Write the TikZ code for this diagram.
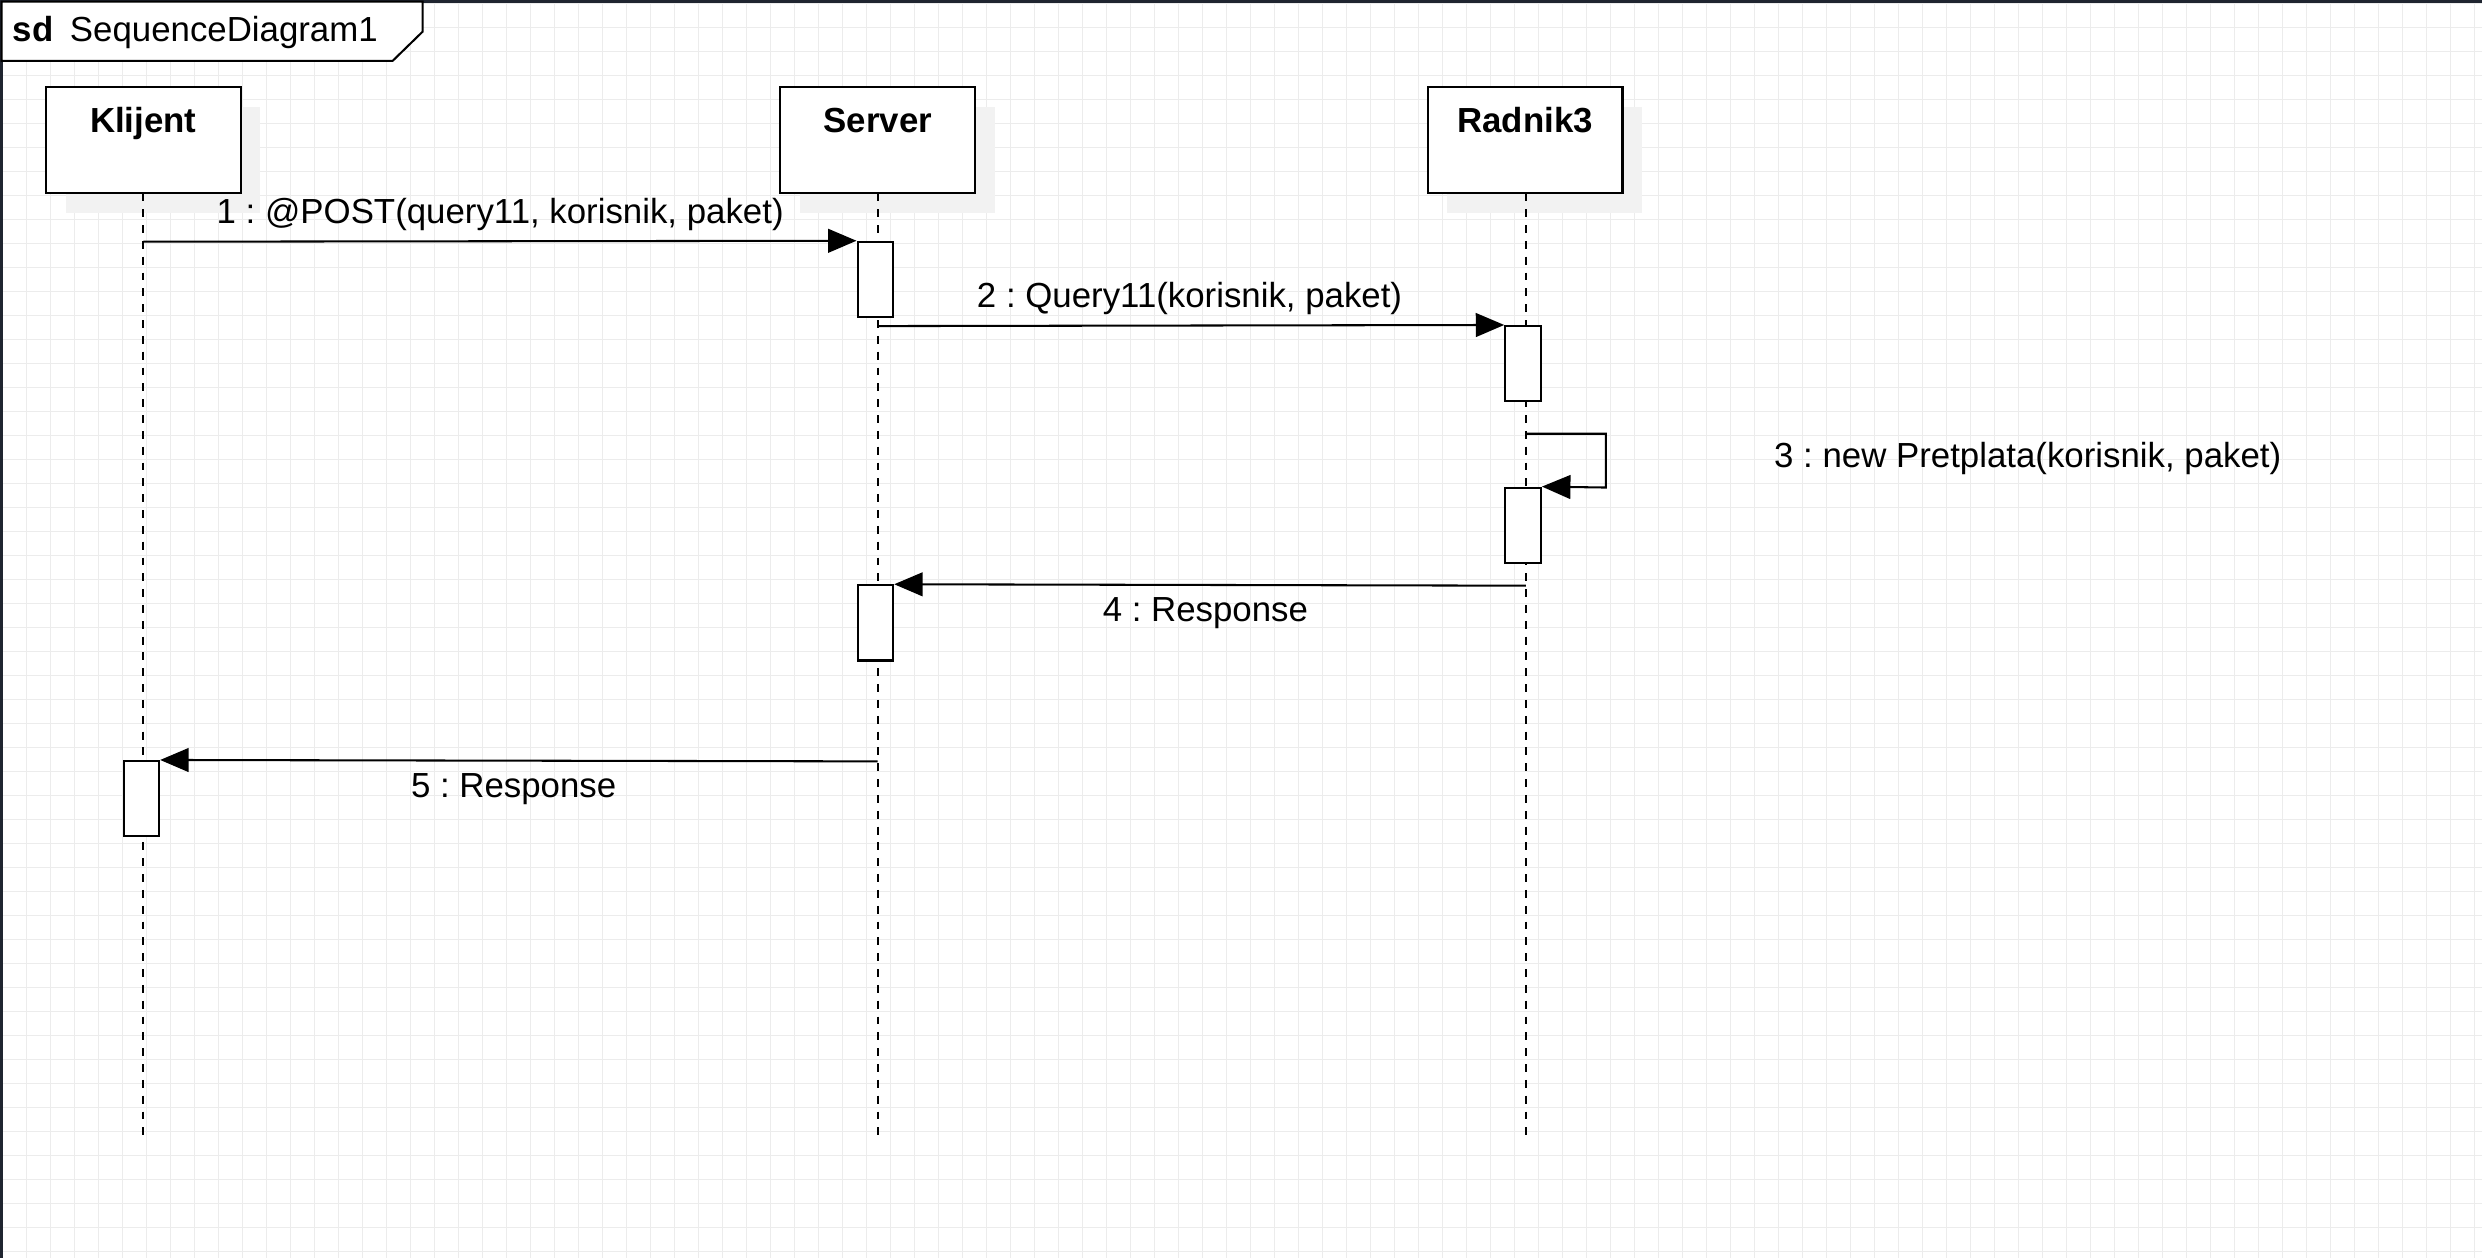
\documentclass[tikz,border=0pt]{standalone}
\usepackage{fontspec}
\setmainfont{Liberation Sans}
\usetikzlibrary{arrows.meta}
\definecolor{gridc}{HTML}{ECECEC}
\definecolor{shadowc}{HTML}{F2F2F2}
\definecolor{framec}{HTML}{1F2530}
\frenchspacing
\tikzset{
  gridline/.style={draw=gridc, line width=0.6pt},
  lbox/.style={draw=black, fill=white, line width=1.3pt, minimum width=123pt, minimum height=67pt, inner sep=0pt},
  lshadow/.style={fill=shadowc, minimum width=123pt, minimum height=67pt, inner sep=0pt},
  actbox/.style={draw=black, fill=white, line width=1.3pt, minimum width=22.5pt, minimum height=47.5pt, inner sep=0pt},
  lifeline/.style={draw=black, line width=1.3pt, dash pattern=on 5pt off 5pt},
  msg/.style={draw=black, line width=1.3pt, -{Triangle[length=18pt,width=15pt]}},
  msglabel/.style={anchor=base, inner sep=0pt},
  headlabel/.style={anchor=base, inner sep=0pt, font=\fontsize{22}{26}\selectfont\frenchspacing\bfseries},
}
\begin{document}
\begin{tikzpicture}[x=1pt, y=-1pt, font=\fontsize{22}{26}\selectfont\frenchspacing]
\useasboundingbox (0,0) rectangle (1568,794.7);
\clip (0,0) rectangle (1568,794.7);
\fill[white] (0,0) rectangle (1568,794.7);
% grid
\foreach \i in {0,...,104} {
  \draw[gridline] ({1.45+\i*15.16},0) -- ({1.45+\i*15.16},794.7);
}
\foreach \j in {0,...,53} {
  \draw[gridline] (0,{2.5+\j*15.16}) -- (1568,{2.5+\j*15.16});
}
% frame
\draw[framec, line width=1.8pt] (1,1) rectangle (1620,840);
\draw[black, fill=white, line width=1.3pt] (1,1) -- (267,1) -- (267,20) -- (248,38.5) -- (1,38.5) -- cycle;
\node[anchor=base west, inner sep=0pt, font=\fontsize{22}{26}\selectfont\bfseries] (sdlbl) at (8,26) {sd};
\node[anchor=base west, inner sep=0pt] (sdname) at (44,26) {SequenceDiagram1};
% shadows
\node[lshadow] (klijentsh) at (102.9,101) {};
\node[lshadow] (serversh) at (566.9,101) {};
\node[lshadow] (radniksh) at (975.9,101) {};
% lifeline heads
\node[lbox] (klijent) at (90.5,88.7) {};
\node[lbox] (server) at (554.5,88.7) {};
\node[lbox] (radnik) at (963.5,88.7) {};
\node[headlabel] (klijentlbl) at (90.5,83.8) {Klijent};
\node[headlabel] (serverlbl) at (554.5,83.8) {Server};
\node[headlabel] (radniklbl) at (963.5,83.8) {Radnik3};
% lifeline ends
\coordinate (kend) at (90.5,722);
\coordinate (send) at (554.5,722);
\coordinate (rend) at (964,722);
\draw[lifeline] (90.5,122.2) -- (kend);
\draw[lifeline] (554.5,122.2) -- (send);
\draw[lifeline] (964,122.2) -- (rend);
% activation boxes
\node[actbox] (s1) at (553,176.5) {};
\node[actbox] (r1) at (962.2,229.7) {};
\node[actbox] (r2) at (962.2,331.8) {};
\node[actbox] (s2) at (553,393.5) {};
\node[actbox] (k1) at (89.3,504.5) {};
% message points on lifelines
\coordinate (m1s) at (90.5,152.7);
\coordinate (m2s) at (554.5,206);
\coordinate (m3s) at (964,274);
\coordinate (m3a) at (1014.5,274);
\coordinate (m3b) at (1014.5,308);
\coordinate (m4s) at (964,370);
\coordinate (m5s) at (554.5,481);
% messages
\draw[msg] (m1s) -- (s1.north west);
\draw[msg] (m2s) -- (r1.north west);
\draw[msg] (m3s) -- (m3a) -- (m3b) -- (r2.north east);
\draw[msg] (m4s) -- (s2.north east);
\draw[msg] (m5s) -- (k1.north east);
% labels
\node[msglabel] (l1) at (316,141.5) {1 : @POST(query11, korisnik, paket)};
\node[msglabel] (l2) at (751.5,194) {2 : Query11(korisnik, paket)};
\node[msglabel] (l3) at (1281,295.5) {3 : new Pretplata(korisnik, paket)};
\node[msglabel] (l4) at (761.5,392.5) {4 : Response};
\node[msglabel] (l5) at (324.5,503.5) {5 : Response};
\end{tikzpicture}
\end{document}
